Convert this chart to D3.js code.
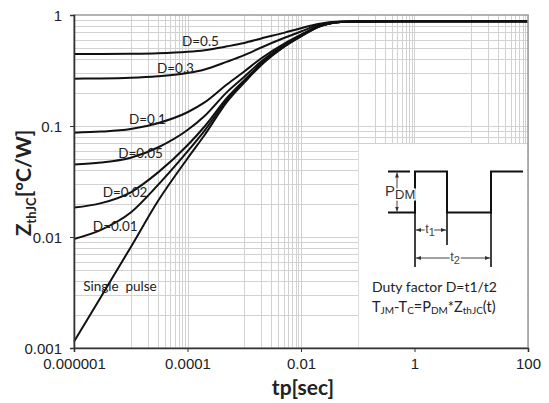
<!DOCTYPE html>
<html>
<head>
<meta charset="utf-8">
<script src="https://cdn.jsdelivr.net/npm/d3@7"></script>
<style>
  body { margin: 0; background: #fff; }
  svg { display: block; }
</style>
</head>
<body>
<svg id="chart"></svg>
<script>
// Config
const width = 549;
const height = 403;
const margin = { top: 15, right: 21, bottom: 55, left: 74 };

// data
const tp = [1e-6, 3e-6, 1e-5, 3e-5, 1e-4, 2e-4, 5e-4, 1e-3, 2e-3, 5e-3, 1e-2, 2e-2, 5e-2, 0.1, 1, 10, 100];
const zD05 = [0.445, 0.445, 0.447, 0.452, 0.466, 0.482, 0.522, 0.56, 0.615, 0.69, 0.76, 0.83, 0.872, 0.877, 0.88, 0.88, 0.88];
const zD03 = [0.267, 0.268, 0.272, 0.281, 0.30, 0.323, 0.38, 0.435, 0.51, 0.62, 0.71, 0.81, 0.868, 0.876, 0.88, 0.88, 0.88];
const zD01 = [0.087, 0.089, 0.094, 0.106, 0.133, 0.163, 0.238, 0.31, 0.408, 0.55, 0.665, 0.79, 0.866, 0.875, 0.88, 0.88, 0.88];
const zD005 = [0.045, 0.0468, 0.0517, 0.064, 0.092, 0.123, 0.203, 0.278, 0.382, 0.535, 0.655, 0.785, 0.866, 0.875, 0.88, 0.88, 0.88];
const zD002 = [0.0184, 0.0202, 0.0253, 0.038, 0.067, 0.099, 0.18, 0.259, 0.365, 0.523, 0.648, 0.782, 0.865, 0.875, 0.88, 0.88, 0.88];
const zD001 = [0.0096, 0.0116, 0.0166, 0.0293, 0.059, 0.091, 0.173, 0.252, 0.36, 0.519, 0.645, 0.78, 0.865, 0.875, 0.88, 0.88, 0.88];
const zSingle = [0.00114, 0.0029, 0.0081, 0.021, 0.051, 0.083, 0.166, 0.246, 0.355, 0.515, 0.642, 0.778, 0.865, 0.875, 0.88, 0.88, 0.88];

const series = [
  { name: "D=0.5", values: zD05 },
  { name: "D=0.3", values: zD03 },
  { name: "D=0.1", values: zD01 },
  { name: "D=0.05", values: zD005 },
  { name: "D=0.02", values: zD002 },
  { name: "D=0.01", values: zD001 },
  { name: "Single  pulse", values: zSingle }
];

// label anchor (left x in tp, baseline value in Z)
const labelPos = [
  [8.0e-5, 0.53], [2.9e-5, 0.30], [9.3e-6, 0.104], [6.0e-6, 0.0515], [3.2e-6, 0.0229], [2.15e-6, 0.0113], [1.45e-6, 0.00326]
];

const xTicks = [1e-6, 1e-4, 1e-2, 1, 100];
const xTickLabels = ["0.000001", "0.0001", "0.01", "1", "100"];
const yTicks = [0.001, 0.01, 0.1, 1];
const yTickLabels = ["0.001", "0.01", "0.1", "1"];
// decades that carry minor vertical grid lines
const xMinorDecades = [1e-5, 1e-3, 0.1, 10];
const yDecades = [0.001, 0.01, 0.1];

const svg = d3.select("#chart")
  .attr("width", width)
  .attr("height", height);

const x = d3.scaleLog().domain([1e-6, 100]).range([margin.left, width - margin.right]);
const y = d3.scaleLog().domain([0.001, 1]).range([height - margin.bottom, margin.top]);

// grid
const grid = svg.append("g").attr("stroke", "#d2d2d2").attr("stroke-width", 1);
const xGrid = [];
xTicks.forEach(t => xGrid.push(t));
[1e-5, 1e-3, 0.1, 10].forEach(t => xGrid.push(t));
xMinorDecades.forEach(d => { for (let k = 2; k <= 9; k++) xGrid.push(d * k); });
const yGrid = [0.01, 0.1];
yDecades.forEach(d => { for (let k = 2; k <= 9; k++) yGrid.push(d * k); });

grid.selectAll(".vx").data(xGrid).join("line")
  .attr("x1", d => Math.round(x(d)) + 0.5).attr("x2", d => Math.round(x(d)) + 0.5)
  .attr("y1", y(1)).attr("y2", y(0.001));
grid.selectAll(".hy").data(yGrid).join("line")
  .attr("y1", d => Math.round(y(d)) + 0.5).attr("y2", d => Math.round(y(d)) + 0.5)
  .attr("x1", x(1e-6)).attr("x2", x(100));

// white inset box
svg.append("rect")
  .attr("x", x(0.1) + 1)
  .attr("y", y(0.07) + 1)
  .attr("width", x(100) - x(0.1) - 2)
  .attr("height", y(0.001) - y(0.07) - 2)
  .attr("fill", "#fff");

// curves
const line = d3.line()
  .x((d, i) => x(tp[i]))
  .y(d => y(d))
  .curve(d3.curveMonotoneX);

svg.append("g").selectAll("path").data(series).join("path")
  .attr("d", d => line(d.values))
  .attr("fill", "none")
  .attr("stroke", "#111")
  .attr("stroke-width", 2);

// border
svg.append("rect")
  .attr("x", x(1e-6)).attr("y", y(1))
  .attr("width", x(100) - x(1e-6)).attr("height", y(0.001) - y(1))
  .attr("fill", "none").attr("stroke", "#9a9a9a").attr("stroke-width", 1.5);

// axes
const yAxis = svg.append("g")
  .attr("transform", `translate(${x(1e-6)},0)`)
  .call(d3.axisLeft(y).tickValues(yTicks).tickFormat((d, i) => yTickLabels[i]).tickSize(4).tickPadding(8));
const xAxis = svg.append("g")
  .attr("transform", `translate(0,${y(0.001)})`)
  .call(d3.axisBottom(x).tickValues(xTicks).tickFormat((d, i) => xTickLabels[i]).tickSize(4).tickPadding(6));

[yAxis, xAxis].forEach(a => {
  a.select(".domain").attr("stroke", "#333").attr("stroke-width", 1.6);
  a.selectAll(".tick line").attr("stroke", "#333");
  a.selectAll(".tick text")
    .attr("fill", "#222")
    .style("font-family", "'Liberation Sans', Arial, sans-serif")
    .style("font-size", "15px");
});
yAxis.selectAll(".tick text").attr("dy", "0.36em");

// curve labels
svg.append("g").selectAll("text").data(series).join("text")
  .attr("x", (d, i) => x(labelPos[i][0]))
  .attr("y", (d, i) => y(labelPos[i][1]))
  .attr("fill", "#222")
  .style("font-family", "Lato, 'Open Sans', sans-serif")
  .style("font-size", "13.5px")
  .style("white-space", "pre")
  .text(d => d.name);

// axis titles
svg.append("text")
  .attr("x", 303)
  .attr("y", 395)
  .attr("text-anchor", "middle")
  .attr("fill", "#222")
  .style("font-family", "Lato, 'Open Sans', sans-serif")
  .style("font-weight", "bold")
  .style("font-size", "21px")
  .text("tp[sec]");

const yt = svg.append("text")
  .attr("transform", "translate(31,183) rotate(-90)")
  .attr("text-anchor", "middle")
  .attr("fill", "#222")
  .style("font-family", "Lato, 'Open Sans', sans-serif")
  .style("font-weight", "bold")
  .style("font-size", "21px");
yt.append("tspan").text("Z");
yt.append("tspan").attr("dy", 5).style("font-size", "13px").text("thJC");
yt.append("tspan").attr("dy", -5).text("[°C/W]");

// inset: pulse diagram
const ins = svg.append("g");
const defs = svg.append("defs");
defs.append("marker").attr("id", "ah").attr("viewBox", "0 0 10 10")
  .attr("refX", 10).attr("refY", 5).attr("markerWidth", 5).attr("markerHeight", 5)
  .attr("orient", "auto-start-reverse")
  .append("path").attr("d", "M0,1 L10,5 L0,9 z").attr("fill", "#333");

const hi = 171.5, lo = 212.5;
const e1 = 415, e2 = 447, e3 = 491;
ins.append("path")
  .attr("d", `M388,${lo} H${e1} V${hi} H${e2} V${lo} H${e3} V${hi} H523`)
  .attr("fill", "none").attr("stroke", "#111").attr("stroke-width", 2);
ins.append("line").attr("x1", 388).attr("x2", 410).attr("y1", hi).attr("y2", hi)
  .attr("stroke", "#111").attr("stroke-width", 2);
// edge markers
[[e1, 267], [e2, 245], [e3, 267]].forEach(([ex, ey]) => {
  ins.append("line").attr("x1", ex).attr("x2", ex).attr("y1", lo).attr("y2", ey)
    .attr("stroke", "#111").attr("stroke-width", 1.6);
});
// arrows
const arr = (x1, y1, x2, y2) => ins.append("line")
  .attr("x1", x1).attr("y1", y1).attr("x2", x2).attr("y2", y2)
  .attr("stroke", "#444").attr("stroke-width", 1)
  .attr("marker-start", "url(#ah)").attr("marker-end", "url(#ah)");
arr(397, hi + 1, 397, lo - 1);
arr(e1 + 1, 230, e2 - 1, 230);
arr(e1 + 1, 258, e3 - 1, 258);

const insFont = "'Liberation Sans', Arial, sans-serif";
const pdm = ins.append("text").attr("x", 385).attr("y", 196)
  .style("font-family", insFont).style("font-size", "15px").attr("fill", "#333");
pdm.append("tspan").style("paint-order", "stroke").attr("stroke", "#fff").attr("stroke-width", 3).text("P");
pdm.append("tspan").attr("dy", 3).style("font-size", "13px").style("paint-order", "stroke").attr("stroke", "#fff").attr("stroke-width", 3).text("DM");

const subT = (tx, ty, s) => {
  const t = ins.append("text").attr("x", tx).attr("y", ty)
    .attr("text-anchor", "middle")
    .style("font-family", insFont).style("font-size", "13px").attr("fill", "#444");
  t.append("tspan").style("paint-order", "stroke").attr("stroke", "#fff").attr("stroke-width", 3).text("t");
  t.append("tspan").attr("dy", 3).style("font-size", "11px").style("paint-order", "stroke").attr("stroke", "#fff").attr("stroke-width", 3).text(s);
};
subT(430, 233, "1");
subT(455, 261, "2");

const noteFont = "Lato, 'Open Sans', sans-serif";
ins.append("text").attr("x", 372).attr("y", 292)
  .style("font-family", noteFont).style("font-size", "14px").attr("fill", "#222")
  .text("Duty factor D=t1/t2");
const eq = ins.append("text").attr("x", 372).attr("y", 312)
  .style("font-family", noteFont).style("font-size", "14.5px").attr("fill", "#222");
eq.append("tspan").text("T");
eq.append("tspan").attr("dy", 2).style("font-size", "10px").text("JM");
eq.append("tspan").attr("dy", -2).text("-T");
eq.append("tspan").attr("dy", 2).style("font-size", "10px").text("C");
eq.append("tspan").attr("dy", -2).text("=P");
eq.append("tspan").attr("dy", 2).style("font-size", "10px").text("DM");
eq.append("tspan").attr("dy", -2).text("*Z");
eq.append("tspan").attr("dy", 2).style("font-size", "10px").text("thJC");
eq.append("tspan").attr("dy", -2).text("(t)");
</script>
</body>
</html>
